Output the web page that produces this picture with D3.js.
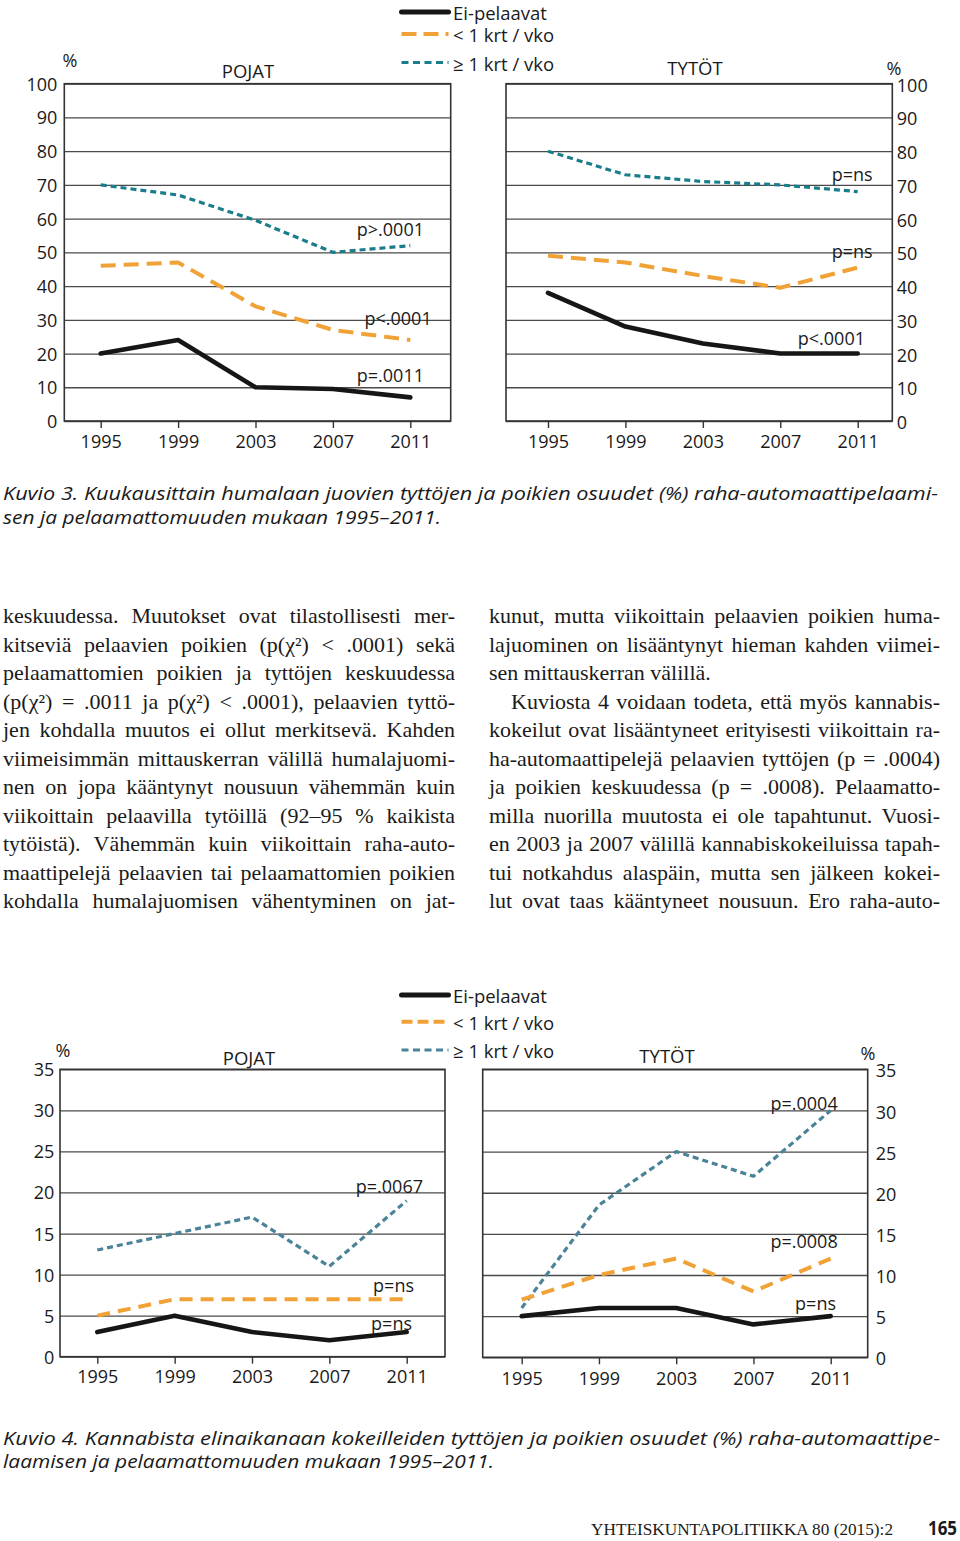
<!DOCTYPE html>
<html lang="fi">
<head>
<meta charset="UTF-8">
<title>Kuviot 3 ja 4</title>
<style>
  html, body { margin: 0; padding: 0; background: #fff; }
  svg { display: block; }
  .sans { font-family: "Open Sans", "Noto Sans", sans-serif; fill: #1a1a1a; }
  .serif { font-family: "Liberation Serif", "DejaVu Serif", serif; fill: #1a1a1a; }
</style>
</head>
<body>
<div id="page"></div>
<script src="https://cdn.jsdelivr.net/npm/d3@7"></script>
<script>
// ---- data ----
var years = [1995, 1999, 2003, 2007, 2011];
var legendLabels = ["Ei-pelaavat", "< 1 krt / vko", "\u2265 1 krt / vko"];
var yTicks3 = [0, 10, 20, 30, 40, 50, 60, 70, 80, 90, 100];
var yTicks4 = [0, 5, 10, 15, 20, 25, 30, 35];

// Kuvio 3: humalaan juovat (%)
var k3PojatEi   = [20, 24, 10, 9.5, 7];
var k3PojatAlle = [46, 47, 34, 27, 24];
var k3PojatYli  = [70, 67, 59.5, 50, 52];
var k3TytotEi   = [38, 28, 23, 20, 20];
var k3TytotAlle = [49, 47, 43, 39.5, 45.5];
var k3TytotYli  = [80, 73, 71, 70, 68];
var k3PojatP = ["p=.0011", "p<.0001", "p>.0001"];
var k3TytotP = ["p<.0001", "p=ns", "p=ns"];

// Kuvio 4: kannabista kokeilleet (%)
var k4PojatEi   = [3, 5, 3, 2, 3];
var k4PojatAlle = [5, 7, 7, 7, 7];
var k4PojatYli  = [13, 15, 17, 11, 19];
var k4TytotEi   = [5, 6, 6, 4, 5];
var k4TytotAlle = [7, 10, 12, 8, 12];
var k4TytotYli  = [6, 18.5, 25, 22, 30];
var k4PojatP = ["p=ns", "p=ns", "p=.0067"];
var k4TytotP = ["p=ns", "p=.0008", "p=.0004"];

var caption3 = ["Kuvio 3. Kuukausittain humalaan juovien tytt\u00f6jen ja poikien osuudet (%) raha-automaattipelaami-",
                "sen ja pelaamattomuuden mukaan 1995\u20132011."];
var caption4 = ["Kuvio 4. Kannabista elinaikanaan kokeilleiden tytt\u00f6jen ja poikien osuudet (%) raha-automaattipe-",
                "laamisen ja pelaamattomuuden mukaan 1995\u20132011."];

var leftCol = [
  "keskuudessa. Muutokset ovat tilastollisesti mer-",
  "kitsevi\u00e4 pelaavien poikien (p(\u03c7\u00b2) < .0001) sek\u00e4",
  "pelaamattomien poikien ja tytt\u00f6jen keskuudessa",
  "(p(\u03c7\u00b2) = .0011 ja p(\u03c7\u00b2) < .0001), pelaavien tytt\u00f6-",
  "jen kohdalla muutos ei ollut merkitsev\u00e4. Kahden",
  "viimeisimm\u00e4n mittauskerran v\u00e4lill\u00e4 humalajuomi-",
  "nen on jopa k\u00e4\u00e4ntynyt nousuun v\u00e4hemm\u00e4n kuin",
  "viikoittain pelaavilla tyt\u00f6ill\u00e4 (92\u201395 % kaikista",
  "tyt\u00f6ist\u00e4). V\u00e4hemm\u00e4n kuin viikoittain raha-auto-",
  "maattipelej\u00e4 pelaavien tai pelaamattomien poikien",
  "kohdalla humalajuomisen v\u00e4hentyminen on jat-"
];
var rightCol = [
  "kunut, mutta viikoittain pelaavien poikien huma-",
  "lajuominen on lis\u00e4\u00e4ntynyt hieman kahden viimei-",
  "sen mittauskerran v\u00e4lill\u00e4.",
  "Kuviosta 4 voidaan todeta, ett\u00e4 my\u00f6s kannabis-",
  "kokeilut ovat lis\u00e4\u00e4ntyneet erityisesti viikoittain ra-",
  "ha-automaattipelej\u00e4 pelaavien tytt\u00f6jen (p = .0004)",
  "ja poikien keskuudessa (p = .0008). Pelaamatto-",
  "milla nuorilla muutosta ei ole tapahtunut. Vuosi-",
  "en 2003 ja 2007 v\u00e4lill\u00e4 kannabiskokeiluissa tapah-",
  "tui notkahdus alasp\u00e4in, mutta sen j\u00e4lkeen kokei-",
  "lut ovat taas k\u00e4\u00e4ntyneet nousuun. Ero raha-auto-"
];
var rightParaEnd = [2];
var rightParaStart = [3];

var footerText = "YHTEISKUNTAPOLITIIKKA 80 (2015):2";
var pageNumber = "165";

// ---- drawing ----
var W = 960, H = 1541;
var svg = d3.select("#page").append("svg")
    .attr("width", W).attr("height", H)
    .attr("viewBox", "0 0 " + W + " " + H);

var black = "#161616", orange = "#f0a236";
var fs = 18;

function drawPanel(o) {
  var g = svg.append("g").attr("class", "sans");
  var x = d3.scaleLinear().domain([1995, 2011]).range(o.xr);
  var y = d3.scaleLinear().domain([0, o.yMax]).range([o.box.b, o.box.t]);
  var w = o.box.r - o.box.l;

  // grid + y labels
  var yAxis = (o.side == "left" ? d3.axisLeft(y) : d3.axisRight(y))
      .tickValues(o.ticks).tickSize(-w).tickPadding(o.labelGap);
  var ya = g.append("g")
      .attr("transform", "translate(" + (o.side == "left" ? o.box.l : o.box.r) + ",0)")
      .call(yAxis);
  ya.select(".domain").remove();
  ya.selectAll(".tick line").attr("stroke", "#4a4a4a").attr("stroke-width", 1.3);
  ya.selectAll(".tick text").attr("font-size", fs).attr("font-family", "Open Sans")
      .attr("fill", "#1a1a1a").attr("dy", o.side == "left" ? "0.36em" : "0.42em");

  // frame
  g.append("rect").attr("x", o.box.l).attr("y", o.box.t)
      .attr("width", w).attr("height", o.box.b - o.box.t)
      .attr("fill", "none").attr("stroke", "#333").attr("stroke-width", 1.6);

  // x axis ticks + years
  var xa = g.append("g").attr("transform", "translate(0," + o.box.b + ")")
      .call(d3.axisBottom(x).tickValues(years).tickSize(7).tickPadding(7).tickFormat(d3.format("d")));
  xa.select(".domain").remove();
  xa.selectAll(".tick line").attr("stroke", "#333").attr("stroke-width", 1.4);
  xa.selectAll(".tick text").attr("font-size", fs).attr("font-family", "Open Sans")
      .attr("fill", "#1a1a1a").attr("y", o.yearDy).attr("dy", "0.36em");

  // title and %
  g.append("text").attr("x", o.titleXY[0]).attr("y", o.titleXY[1]).attr("dy", "0.36em")
      .attr("text-anchor", "middle").attr("font-size", fs + 0.5).text(o.title);
  g.append("text").attr("x", o.pctXY[0]).attr("y", o.pctXY[1]).attr("dy", "0.36em")
      .attr("text-anchor", "middle").attr("font-size", fs).text("%");

  // lines
  var line = d3.line().x(function(d, i) { return x(years[i]); }).y(function(d) { return y(d); });
  var styles = [
    {c: black, w: 4.6, dash: null, cap: "round"},
    {c: orange, w: 4, dash: o.orangeDash, cap: "butt"},
    {c: o.teal, w: 3.2, dash: "6,4", cap: "butt"}
  ];
  [2, 1, 0].forEach(function(k) {
    g.append("path").datum(o.series[k]).attr("d", line)
        .attr("fill", "none").attr("stroke", styles[k].c)
        .attr("stroke-width", styles[k].w)
        .attr("stroke-dasharray", styles[k].dash)
        .attr("stroke-linecap", styles[k].cap)
        .attr("stroke-linejoin", "round");
  });

  // p-labels
  o.p.forEach(function(t, k) {
    g.append("text").attr("x", x(2011) + o.pPos[k][0]).attr("y", y(o.pPos[k][1]))
        .attr("dy", "0.36em").attr("text-anchor", "end").attr("font-size", fs).text(t);
  });
}

function drawLegend(ys, teal, orangeDash) {
  var g = svg.append("g").attr("class", "sans");
  var cols = [black, orange, teal], ws = [5, 4, 3.2], dashes = [null, orangeDash, "7,4.5"];
  legendLabels.forEach(function(lab, i) {
    g.append("line").attr("x1", 401.5).attr("x2", 448.5).attr("y1", ys[i]).attr("y2", ys[i])
        .attr("stroke", cols[i]).attr("stroke-width", ws[i])
        .attr("stroke-dasharray", dashes[i]).attr("stroke-linecap", i == 0 ? "round" : "butt");
    g.append("text").attr("x", 453).attr("y", ys[i] + 1.5).attr("dy", "0.36em")
        .attr("font-size", 18.5).text(lab);
  });
}

function drawCaption(lines, ys, widths) {
  lines.forEach(function(t, i) {
    svg.append("text").attr("class", "sans").attr("x", 3).attr("y", ys[i])
        .attr("font-size", 19).attr("font-style", "italic")
        .attr("textLength", widths[i]).attr("lengthAdjust", "spacingAndGlyphs").text(t);
  });
}

function drawColumn(lines, x0, width, y0, lh, paraEnd, paraStart) {
  var g = svg.append("g").attr("class", "serif").attr("font-size", 22);
  lines.forEach(function(t, i) {
    var ind = paraStart.indexOf(i) >= 0 ? 22 : 0;
    var el = g.append("text").attr("x", x0 + ind).attr("y", y0 + i * lh).text(t);
    if (paraEnd.indexOf(i) < 0) {
      var nat = el.node().getComputedTextLength();
      var sp = t.split(" ").length - 1;
      if (sp > 0) el.style("word-spacing", ((width - ind - nat) / sp) + "px");
    }
  });
}

// Kuvio 3
drawLegend([12, 34, 62.5], "#1a7d8c", "15,7");
drawPanel({box: {l: 64.3, r: 450.7, t: 83.7, b: 421}, xr: [100.7, 410.3], yMax: 100, ticks: yTicks3,
  side: "left", labelGap: 7, yearDy: 20.7, title: "POJAT", titleXY: [248, 71], pctXY: [70, 61],
  series: [k3PojatEi, k3PojatAlle, k3PojatYli], p: k3PojatP,
  pPos: [[13.7, 13.6], [21.4, 30.5], [13.7, 56.9]], teal: "#1a7d8c", orangeDash: "15,8"});
drawPanel({box: {l: 506, r: 892.3, t: 83.7, b: 421}, xr: [548, 857.7], yMax: 100, ticks: yTicks3,
  side: "right", labelGap: 4.5, yearDy: 20.7, title: "TYT\u00d6T", titleXY: [695, 68], pctXY: [894, 69],
  series: [k3TytotEi, k3TytotAlle, k3TytotYli], p: k3TytotP,
  pPos: [[7.3, 24.6], [15, 50.1], [15, 73.2]], teal: "#1a7d8c", orangeDash: "15,8"});
drawCaption(caption3, [499.5, 523.5], [935, 438]);

// teksti
drawColumn(leftCol, 3, 452, 623, 28.5, [], []);
drawColumn(rightCol, 489, 451, 623, 28.5, rightParaEnd, rightParaStart);

// Kuvio 4
drawLegend([995, 1021.7, 1050], "#4a8398", "11,5");
drawPanel({box: {l: 60, r: 445, t: 1069.3, b: 1356.7}, xr: [97.3, 406.7], yMax: 35, ticks: yTicks4,
  side: "left", labelGap: 5.7, yearDy: 20, title: "POJAT", titleXY: [249, 1058], pctXY: [63, 1051],
  series: [k4PojatEi, k4PojatAlle, k4PojatYli], p: k4PojatP,
  pPos: [[5.3, 4.07], [7.3, 8.65], [16.3, 20.7]], teal: "#4a8398", orangeDash: "13,8"});
drawPanel({box: {l: 482.7, r: 867.7, t: 1069.3, b: 1357.3}, xr: [521.7, 830.7], yMax: 35, ticks: yTicks4,
  side: "right", labelGap: 8, yearDy: 21, title: "TYT\u00d6T", titleXY: [667, 1056], pctXY: [868, 1054],
  series: [k4TytotEi, k4TytotAlle, k4TytotYli], p: k4TytotP,
  pPos: [[5.3, 6.56], [7, 14.05], [7, 30.9]], teal: "#4a8398", orangeDash: "13,8"});
drawCaption(caption4, [1444.5, 1468], [937, 491]);

// footer
svg.append("text").attr("class", "serif").attr("x", 591).attr("y", 1535)
    .attr("font-size", 16.5).attr("textLength", 302).attr("lengthAdjust", "spacingAndGlyphs")
    .text(footerText);
svg.append("text").attr("class", "sans").attr("x", 957).attr("y", 1535)
    .attr("text-anchor", "end").attr("font-size", 19).attr("font-weight", 700)
    .attr("textLength", 29).attr("lengthAdjust", "spacingAndGlyphs").text(pageNumber);
</script>
</body>
</html>
